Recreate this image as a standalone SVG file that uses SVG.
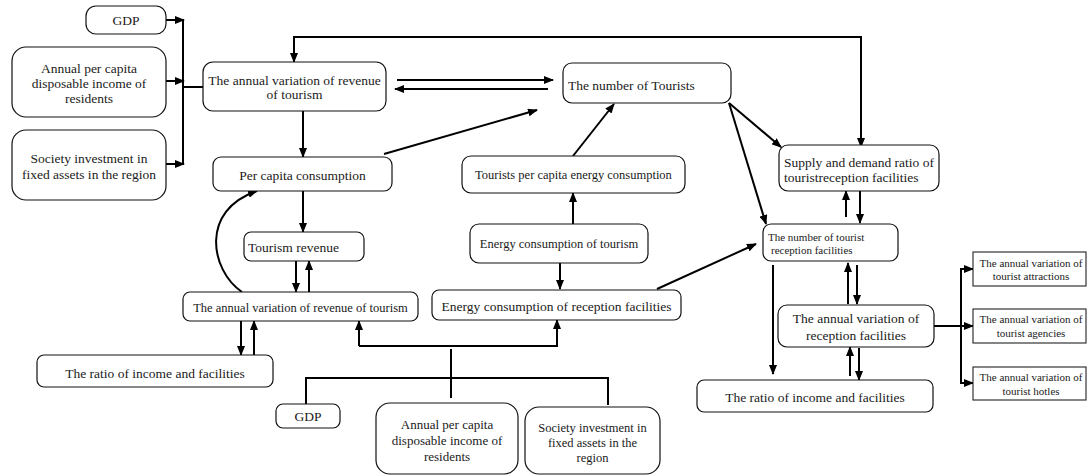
<svg xmlns="http://www.w3.org/2000/svg" width="1088" height="476" viewBox="0 0 1088 476">
  <style>
    .box { fill: #ffffff; stroke: #111111; stroke-width: 1.2; }
    .sq { fill: #ffffff; stroke: #222222; stroke-width: 1.1; }
    text { font-family: "Liberation Serif", "Times New Roman", serif; font-size: 13.5px; fill: #1a1a1a; }
    .c { text-anchor: middle; }
    .s125 { font-size: 12.5px; }
    .s13 { font-size: 13px; }
    .s11 { font-size: 11px; }
    .conn path { fill: none; stroke: #000000; stroke-width: 2; }
    .arr { marker-end: url(#ah); }
    .both { marker-start: url(#ah); marker-end: url(#ah); }
  </style>
  <defs>
    <marker id="ah" markerUnits="userSpaceOnUse" markerWidth="10" markerHeight="8" refX="9" refY="4" orient="auto-start-reverse">
      <path d="M0,0 L10,4 L0,8 z" fill="#000000"/>
    </marker>
  </defs>
  <rect width="1088" height="476" fill="#ffffff"/>

  <!-- connectors -->
  <g id="connectors" class="conn">
    <!-- external inputs to the revenue variation -->
    <path class="arr" d="M166,20 H184"/>
    <path class="arr" d="M166,81 H184"/>
    <path class="arr" d="M166,164 H184"/>
    <path d="M183,20 V164"/>
    <path d="M183,87 H203"/>
    <!-- top feedback loop -->
    <path class="both" d="M861,147 V37 H294 V62"/>
    <!-- revenue variation / tourists -->
    <path class="arr" d="M303,111 V157"/>
    <path class="arr" d="M397,80 H553"/>
    <path class="arr" d="M548,89 H395"/>
    <path class="arr" d="M384,154 L537,110"/>
    <!-- energy chain -->
    <path class="arr" d="M573,156 L614,104"/>
    <path class="arr" d="M573,224 V193"/>
    <path class="arr" d="M560,263 V289"/>
    <path class="arr" d="M657,289 L756,244"/>
    <!-- consumption / revenue -->
    <path class="arr" d="M303,191 V232"/>
    <path class="arr" d="M296,261 V292"/>
    <path class="arr" d="M309,292 V261"/>
    <path class="arr" d="M242,292 C210,270 200,210 257,191"/>
    <path class="arr" d="M241,321 V355"/>
    <path class="arr" d="M254,355 V321"/>
    <!-- bottom input tree -->
    <path class="arr" d="M359,346 V321"/>
    <path class="arr" d="M359,346 H557 V320"/>
    <path d="M451,349 V398"/>
    <path d="M306,404 V378 H608 V405"/>
    <!-- tourists to reception side -->
    <path class="arr" d="M729,103 L781,147"/>
    <path class="arr" d="M729,103 L766,224"/>
    <path class="arr" d="M846,217 V191"/>
    <path class="arr" d="M860,191 V223"/>
    <path class="arr" d="M773,265 V374"/>
    <path class="arr" d="M848,304 V263"/>
    <path class="arr" d="M857,265 V304"/>
    <path class="arr" d="M850,376 V347"/>
    <path class="arr" d="M859,348 V380"/>
    <!-- fan-out to facility types -->
    <path class="arr" d="M934,326 H973"/>
    <path class="both" d="M973,269 H961 V383 H973"/>
  </g>

  <g id="gdp-top">
    <rect class="box" x="86" y="6" width="80" height="28" rx="10"/>
    <text class="c" x="126" y="25">GDP</text>
  </g>
  <g id="income-top">
    <rect class="box" x="12" y="47" width="154" height="70" rx="14"/>
    <text class="c" x="89" y="72.5">Annual per capita</text>
    <text class="c" x="89" y="87.5">disposable income of</text>
    <text class="c" x="89" y="102.5">residents</text>
  </g>
  <g id="invest-top">
    <rect class="box" x="12" y="130" width="154" height="70" rx="14"/>
    <text class="c" x="89" y="162.5">Society investment in</text>
    <text class="c" x="89" y="178.5">fixed assets in the region</text>
  </g>
  <g id="revenue-var-top">
    <rect class="box" x="203" y="62" width="183" height="49" rx="10"/>
    <text class="c" x="294.5" y="84.5">The annual variation of revenue</text>
    <text class="c" x="294.5" y="98.5">of tourism</text>
  </g>
  <g id="tourists">
    <rect class="box" x="563" y="63" width="168" height="40" rx="9"/>
    <text x="568" y="89.5">The number of Tourists</text>
  </g>
  <g id="per-capita">
    <rect class="box" x="213" y="157" width="179" height="34" rx="8"/>
    <text class="c" x="302.5" y="179.5">Per capita consumption</text>
  </g>
  <g id="energy-per-capita">
    <rect class="box" x="462" y="156" width="223" height="37" rx="9"/>
    <text class="c s125" x="573.5" y="179">Tourists per capita energy consumption</text>
  </g>
  <g id="energy-tourism">
    <rect class="box" x="470" y="224" width="178" height="39" rx="9"/>
    <text class="c s125" x="559" y="248">Energy consumption of tourism</text>
  </g>
  <g id="energy-reception">
    <rect class="box" x="432" y="290" width="249" height="30" rx="7"/>
    <text class="c" x="556.5" y="310.5">Energy consumption of reception facilities</text>
  </g>
  <g id="tourism-revenue">
    <rect class="box" x="244" y="232" width="120" height="29" rx="7"/>
    <text x="248" y="251.5">Tourism revenue</text>
  </g>
  <g id="revenue-var-low">
    <rect class="box" x="183" y="292" width="235" height="29" rx="7"/>
    <text class="c s125" x="300.5" y="311.5">The annual variation of revenue of tourism</text>
  </g>
  <g id="ratio-left">
    <rect class="box" x="37" y="355" width="236" height="32" rx="7"/>
    <text class="c" x="155" y="377.5">The ratio of income and facilities</text>
  </g>
  <g id="gdp-bottom">
    <rect class="box" x="276" y="404" width="64" height="24" rx="7"/>
    <text class="c" x="308" y="420.5">GDP</text>
  </g>
  <g id="income-bottom">
    <rect class="box" x="376" y="403" width="142" height="71" rx="14"/>
    <text class="c s13" x="447" y="428.5">Annual per capita</text>
    <text class="c s13" x="447" y="444.5">disposable income of</text>
    <text class="c s13" x="447" y="460.5">residents</text>
  </g>
  <g id="invest-bottom">
    <rect class="box" x="525" y="407" width="135" height="67" rx="14"/>
    <text class="c s125" x="592.5" y="432">Society investment in</text>
    <text class="c s125" x="592.5" y="447">fixed assets in the</text>
    <text class="c s125" x="592.5" y="462">region</text>
  </g>
  <g id="supply-demand">
    <rect class="box" x="779" y="145" width="160" height="46" rx="9"/>
    <text x="784" y="166.5">Supply and demand ratio of</text>
    <text x="784" y="181.5">touristreception facilities</text>
  </g>
  <g id="reception-count">
    <rect class="box" x="763" y="224" width="135" height="37" rx="8"/>
    <text class="s11" x="768" y="241">The number of tourist</text>
    <text class="s11" x="771" y="254">reception facilities</text>
  </g>
  <g id="reception-var">
    <rect class="box" x="778" y="305" width="156" height="42" rx="9"/>
    <text class="c" x="856" y="322.5">The annual variation of</text>
    <text class="c" x="856" y="339.5">reception facilities</text>
  </g>
  <g id="ratio-right">
    <rect class="box" x="697" y="380" width="236" height="32" rx="7"/>
    <text class="c" x="815" y="401.5">The ratio of income and facilities</text>
  </g>
  <g id="attractions">
    <rect class="sq" x="973" y="252" width="113" height="34"/>
    <text class="c s11" x="1031" y="267">The annual variation of</text>
    <text class="c s11" x="1031" y="280">tourist attractions</text>
  </g>
  <g id="agencies">
    <rect class="sq" x="973" y="309" width="113" height="34"/>
    <text class="c s11" x="1031" y="323">The annual variation of</text>
    <text class="c s11" x="1031" y="337">tourist agencies</text>
  </g>
  <g id="hotels">
    <rect class="sq" x="973" y="367" width="113" height="33"/>
    <text class="c s11" x="1031" y="381">The annual variation of</text>
    <text class="c s11" x="1031" y="395">tourist hotles</text>
  </g>
</svg>
